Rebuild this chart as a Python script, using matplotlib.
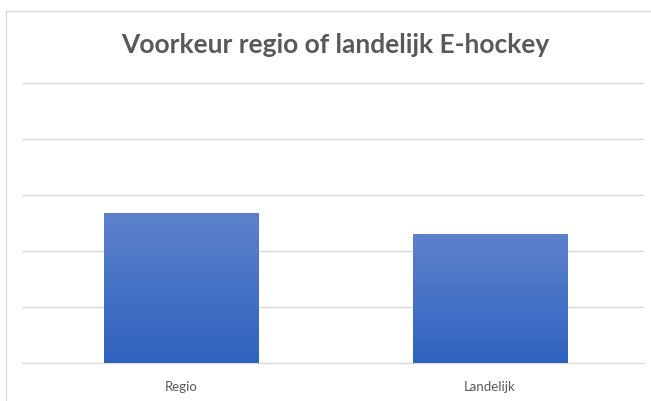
import numpy as np
import matplotlib.pyplot as plt
from matplotlib.lines import Line2D
from matplotlib.colors import LinearSegmentedColormap

# data
categories = ['Regio', 'Landelijk']
values = [2.68, 2.30]

plt.rcParams['font.family'] = ['Lato', 'DejaVu Sans']

W, H = 651, 401
fig = plt.figure(figsize=(W / 100, H / 100), dpi=100)
ax = fig.add_axes([22 / W, 1 - 363 / H, (644 - 22) / W, (363 - 83) / H])

# chart frame (only left/top visible in the picture)
fig.add_artist(Line2D([6 / W, 6 / W], [0, 1 - 11 / H], color='#d9d9d9', lw=1))
fig.add_artist(Line2D([6 / W, 1], [1 - 11 / H, 1 - 11 / H], color='#d9d9d9', lw=1))

x = np.arange(len(categories))
bars = ax.bar(x, values, width=0.5, color='#4472c4', zorder=2)

# vertical gradient inside each bar
cmap = LinearSegmentedColormap.from_list('g', ['#2f62be', '#5d82cd'])
grad = np.linspace(0, 1, 256).reshape(-1, 1)
for b in bars:
    x0, y0 = b.get_x(), b.get_y()
    im = ax.imshow(grad, cmap=cmap, origin='lower', aspect='auto',
                   extent=[x0, x0 + b.get_width(), y0, y0 + b.get_height()], zorder=3)
    im.set_clip_path(b)

ax.set_xlim(-0.517, 1.5)
ax.set_ylim(0, 5)
ax.set_yticks(np.arange(0, 6, 1))
ax.set_yticklabels([])
ax.tick_params(axis='y', length=0)
ax.grid(axis='y', color='#d9d9d9', lw=1, zorder=0)
ax.set_xticks(x)
ax.set_xticklabels(categories, fontsize=9.5, color='#595959')
ax.tick_params(axis='x', length=0, pad=13)
for s in ['top', 'right', 'left']:
    ax.spines[s].set_visible(False)
ax.spines['bottom'].set_color('#d9d9d9')

fig.text(335 / W, 1 - 45 / H, 'Voorkeur regio of landelijk E-hockey',
         ha='center', va='center', fontsize=19, fontweight='bold', color='#595959')

fig.savefig('out.png', dpi=100)
